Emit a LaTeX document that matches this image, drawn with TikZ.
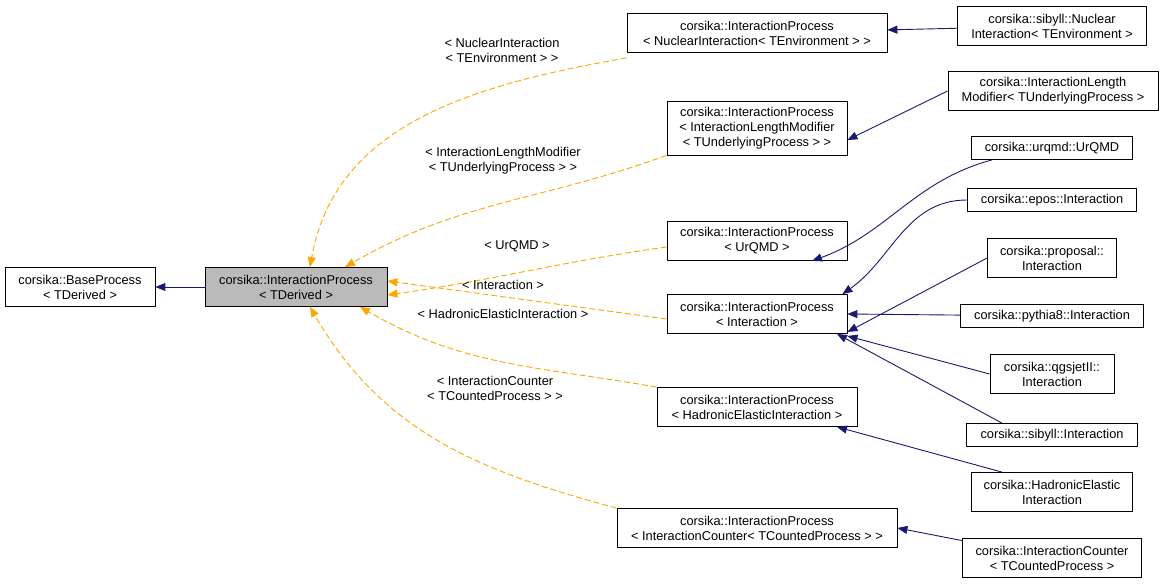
\documentclass[tikz,border=0pt]{standalone}
\usepackage{fontspec}
\setmainfont{Liberation Sans}
\usetikzlibrary{arrows.meta}
\definecolor{Edge}{RGB}{25, 25, 112}
\definecolor{Tmpl}{RGB}{255, 165, 0}

\tikzset{
  cls/.style={draw, fill=white, align=center, inner sep=2pt,
    font=\fontsize{12.8}{15}\selectfont},
  inh/.style={draw=Edge, line width=0.9pt, -{Triangle[length=10pt,width=8pt,fill=Edge]}},
  tpl/.style={draw=Tmpl, line width=0.9pt, dash pattern=on 6pt off 3pt, -{Triangle[length=10pt,width=8pt,fill=Tmpl]}},
  lbl/.style={align=center, font=\fontsize{12.8}{15}\selectfont},
}

\begin{document}
\begin{tikzpicture}[x=1pt, y=-1pt, line join=round, line width=0.8pt]
  \path[use as bounding box] (0,0) rectangle (1164,585);

  % base classes
  \node[cls, minimum width=150pt, minimum height=39pt] (base) at (80,287) {corsika::BaseProcess\\< TDerived >};
  \node[cls, fill=black!27, minimum width=182pt, minimum height=39pt] (ip) at (296,287) {corsika::InteractionProcess\\< TDerived >};

  % template instances
  \node[cls, minimum width=260pt, minimum height=39pt] (ipnuc) at (757,33) {corsika::InteractionProcess\\< NuclearInteraction< TEnvironment > >};
  \node[cls, minimum width=180pt, minimum height=54pt] (ipilm) at (757,128) {corsika::InteractionProcess\\< InteractionLengthModifier\\< TUnderlyingProcess > >};
  \node[cls, minimum width=180pt, minimum height=39pt] (ipurqmd) at (757,241) {corsika::InteractionProcess\\< UrQMD >};
  \node[cls, minimum width=180pt, minimum height=39pt] (ipint) at (757,314) {corsika::InteractionProcess\\< Interaction >};
  \node[cls, minimum width=200pt, minimum height=39pt] (iphad) at (757,407) {corsika::InteractionProcess\\< HadronicElasticInteraction >};
  \node[cls, minimum width=280pt, minimum height=39pt] (ipcnt) at (757,528) {corsika::InteractionProcess\\< InteractionCounter< TCountedProcess > >};

  % derived classes
  \node[cls, minimum width=189pt, minimum height=39pt] (sibnuc) at (1052,26) {corsika::sibyll::Nuclear\\Interaction< TEnvironment >};
  \node[cls, minimum width=210pt, minimum height=39pt] (ilm) at (1053,91) {corsika::InteractionLength\\Modifier< TUnderlyingProcess >};
  \node[cls, minimum width=161pt, minimum height=23pt] (urqmd) at (1052,148) {corsika::urqmd::UrQMD};
  \node[cls, minimum width=169pt, minimum height=23pt] (epos) at (1052,200) {corsika::epos::Interaction};
  \node[cls, minimum width=129pt, minimum height=39pt] (prop) at (1052,258) {corsika::proposal::\\Interaction};
  \node[cls, minimum width=183pt, minimum height=23pt] (pythia) at (1052,316) {corsika::pythia8::Interaction};
  \node[cls, minimum width=124pt, minimum height=39pt] (qgs) at (1052,374) {corsika::qgsjetII::\\Interaction};
  \node[cls, minimum width=171pt, minimum height=23pt] (sib) at (1052,435) {corsika::sibyll::Interaction};
  \node[cls, minimum width=161pt, minimum height=39pt] (had) at (1052,492) {corsika::HadronicElastic\\Interaction};
  \node[cls, minimum width=179pt, minimum height=39pt] (cnt) at (1052,558) {corsika::InteractionCounter\\< TCountedProcess >};

  % inheritance
  \draw[inh] (ip) -- (base);
  \draw[inh] (sibnuc) -- (ipnuc);
  \draw[inh] (ilm.west) -- ([yshift=-12pt]ipilm.east);
  \draw[inh] ([xshift=-60pt]urqmd.south) to[out=195, in=20] ([xshift=55pt]ipurqmd.south);
  \draw[inh] (epos.west) to[out=180, in=35] ([xshift=-5pt]ipint.north east);
  \draw[inh] (prop.west) -- ([yshift=-18pt]ipint.east);
  \draw[inh] (pythia) -- (ipint.east);
  \draw[inh] (qgs.west) -- ([yshift=-22pt]ipint.east);
  \draw[inh] ([xshift=-50pt]sib.north) -- ([xshift=80pt]ipint.south);
  \draw[inh] ([xshift=-50pt]had.north) -- ([xshift=80pt]iphad.south);
  \draw[inh] (cnt) -- (ipcnt.east);

  % template instantiation
  \draw[tpl] ([yshift=-5pt]ipnuc.south west) to[out=190, in=80] ([xshift=14pt]ip.north);
  \draw[tpl] (ipilm.south west) to[out=200, in=30] ([xshift=49pt]ip.north);
  \draw[tpl] ([yshift=-6pt]ipurqmd.west) to[out=188, in=8] ([yshift=-8pt]ip.east);
  \draw[tpl] ([yshift=-5pt]ipint.west) -- ([yshift=6pt]ip.east);
  \draw[tpl] (iphad.north west) to[out=170, in=-30] ([xshift=64pt]ip.south);
  \draw[tpl] (ipcnt.north west) to[out=165, in=-60] ([xshift=14pt]ip.south);

  % labels
  \node[lbl] (l1) at (502,50) {< NuclearInteraction\\< TEnvironment > >};
  \node[lbl] (l2) at (503,161) {< InteractionLengthModifier\\< TUnderlyingProcess > >};
  \node[lbl] (l3) at (517,246) {< UrQMD >};
  \node[lbl] (l4) at (503,285) {< Interaction >};
  \node[lbl] (l5) at (503,314) {< HadronicElasticInteraction >};
  \node[lbl] (l6) at (495,388) {< InteractionCounter\\< TCountedProcess > >};
\end{tikzpicture}
\end{document}
